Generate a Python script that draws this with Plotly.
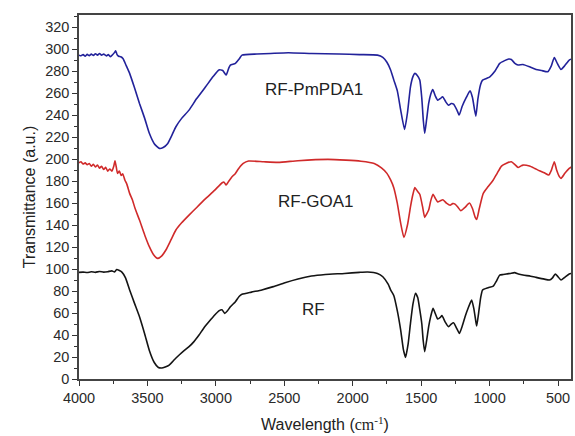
import plotly.graph_objects as go

# RF (black)
rf_wn = [4000,3970,3940,3910,3880,3850,3820,3790,3760,3740,3725,3705,3685,3660,3630,3595,3558,3520,3486,3450,3420,3395,3370,3341,3300,3268,3230,3196,3160,3123,3090,3051,3010,2978,2955,2935,2915,2894,2857,2830,2809,2740,2664,2580,2495,2400,2302,2200,2060,1950,1891,1819,1780,1740,1723,1700,1674,1650,1630,1614,1595,1578,1560,1541,1525,1510,1495,1485,1474,1460,1445,1430,1413,1395,1379,1360,1348,1325,1300,1280,1263,1240,1220,1200,1179,1155,1131,1115,1100,1094,1080,1065,1051,1010,973,950,926,900,877,850,817,790,756,700,660,600,563,540,520,500,478,450,418,400]
rf_val = [97,97.2,96.8,97.5,97,97.8,97.2,97.6,98.3,97.4,99.5,98.6,97,92,81,69,56.6,41,26,15,10.5,10,11,12.7,18,21.8,26,29.4,34,40,46,52,58,62,63,59.7,62,65.7,70.3,75,77,79,81,84,87.6,91,93.6,95,96,97,97.3,96,93,86,81,76,62,45,27,19.7,32,50.6,68,78,74,63,50,35,24.8,35,47.6,57,64.2,59,54.5,56,57.6,52,47.6,50,51.2,46,41.5,48,56.6,65,71.8,64,52,48.2,60,74,81,83,84.5,89,94.5,95,95.5,96,96.7,95.5,94.5,93.5,92.4,90.8,90,92,95.5,93,90,92.5,95.5,96]

# RF-GOA1 (red)
goa_wn = [4000,3985,3970,3955,3940,3925,3910,3895,3880,3865,3850,3835,3820,3805,3790,3775,3760,3745,3737,3728,3718,3705,3692,3680,3665,3650,3630,3610,3590,3558,3520,3486,3455,3425,3395,3365,3330,3292,3250,3196,3140,3075,3010,2954,2940,2925,2905,2882,2860,2833,2800,2761,2650,2544,2400,2181,2050,1940,1843,1790,1750,1723,1700,1674,1650,1626,1600,1578,1560,1546,1528,1510,1490,1474,1460,1445,1430,1413,1395,1379,1360,1341,1315,1288,1270,1252,1230,1210,1180,1147,1125,1105,1094,1075,1046,1010,973,945,913,880,841,815,792,770,756,708,670,636,600,568,548,527,510,490,478,450,418,400]
goa_val = [196.7,197.5,195.5,196.5,194.8,196,193.5,195.2,192.8,194.5,191.8,193.5,190.5,192.5,189,191,189,194,198.5,193,187,189,185,186.5,181,177,168.8,163,155,144.5,131,120.3,113,109.7,112,117.3,126,135.5,142,149,156,164,171.5,178.5,179,176.4,180,184,186.5,191.5,196,198.2,197.5,197,198.5,199.7,199,198,196,192,187,181,174,159.7,142,128.8,140,156.6,168,174,171,168,157,147,150,153.6,162,168,164,161,162,163,160,158,159.5,159,156,153,156,160,155,147,145,155,168.8,175,181,187,193.6,196,197.6,195,192.4,193.8,194.5,193.6,191.5,189.4,187.5,185.5,190,197.6,190,184,182.4,187,191.5,193]

# RF-PmPDA1 (blue)
pda_wn = [4000,3985,3970,3955,3940,3925,3910,3895,3880,3865,3850,3835,3820,3800,3785,3770,3755,3740,3732,3722,3710,3695,3679,3655,3630,3595,3558,3520,3486,3450,3413,3385,3353,3320,3292,3250,3196,3140,3075,3020,2978,2950,2925,2905,2894,2857,2830,2809,2700,2600,2471,2300,2100,1950,1819,1780,1750,1723,1700,1674,1650,1621,1600,1578,1560,1546,1528,1510,1495,1484,1474,1460,1445,1430,1415,1395,1379,1360,1343,1320,1300,1280,1263,1240,1222,1200,1170,1143,1125,1110,1100,1085,1065,1051,1020,998,960,926,890,860,841,815,792,756,700,660,620,575,548,527,505,478,450,418,400]
pda_val = [294.5,294,295,293.5,295.2,294,295.5,294.2,295.8,294.5,296,294.5,295.5,293.8,295,293,294.8,297,298.5,295,293.5,293,291.5,285,277.9,265,250.6,237,223.4,214,209.7,210.5,214,222,229.4,237,244.5,255,265.7,275,281,280.5,276.4,283,285.5,287,291,294.5,295.5,296,296.7,296,295.5,295,294.5,292.5,288,281,272,262,245,227,242,265.7,275,277.9,276,271.8,255,235,223.4,236,250.6,259,263.3,257,253.6,255,256.7,252,249,250.5,250,245,240,248,256,262,256,245,239,255,268,271.8,273.5,274.8,280,287,289.5,291,290.6,287,285.5,286,283.5,281.5,280.5,279.4,285,292.4,287,281.5,285,290,291]

labels = ["RF-PmPDA1", "RF-GOA1", "RF"]
label_x = [2283, 2268, 2283]
label_y = [263, 161, 63]

x_ticks = [4000, 3500, 3000, 2500, 2000, 1500, 1000, 500]
y_ticks = list(range(0, 321, 20))

fig = go.Figure()
series = [
    (rf_wn, rf_val, "#141414", "RF"),
    (goa_wn, goa_val, "#d02a2a", "RF-GOA1"),
    (pda_wn, pda_val, "#22229a", "RF-PmPDA1"),
]
for wn, val, col, name in series:
    fig.add_trace(go.Scatter(x=wn, y=val, mode="lines", name=name,
                             line=dict(color=col, width=1.6, shape="spline", smoothing=0.5)))

for t, x, y in zip(labels, label_x, label_y):
    fig.add_annotation(x=x, y=y, text=t, showarrow=False,
                       font=dict(family="Liberation Sans, Arial", size=17, color="#222"))

axis_font = dict(family="Liberation Sans, Arial", size=14.5, color="#2a2a2a")
fig.update_layout(
    width=575, height=436,
    margin=dict(l=79, r=2, t=15, b=57),
    paper_bgcolor="white", plot_bgcolor="white",
    showlegend=False,
    font=dict(family="Liberation Sans, Arial", color="#333"),
    xaxis=dict(range=[4000, 405], tickvals=x_ticks, ticks="outside", ticklen=5, tickwidth=1.2,
               tickcolor="#333", showline=True, linecolor="#444", linewidth=1.5, mirror=True,
               showgrid=False, zeroline=False, tickfont=axis_font,
               minor=dict(ticks="outside", ticklen=3, tickcolor="#333", dtick=250, tick0=0, showgrid=False),
               title=dict(text="Wavelength (<span style='font-family:Liberation Serif'>cm<sup>-1</sup></span>)",
                          font=dict(family="Liberation Sans, Arial", size=16, color="#222"), standoff=14)),
    yaxis=dict(range=[0, 331], tickvals=y_ticks, ticks="outside", ticklen=5, tickwidth=1.2,
               tickcolor="#333", showline=True, linecolor="#444", linewidth=1.5, mirror=True,
               showgrid=False, zeroline=False, tickfont=axis_font,
               minor=dict(ticks="outside", ticklen=3, tickcolor="#333", dtick=10, tick0=0, showgrid=False),
               title=dict(text="Transmittance (a.u.)",
                          font=dict(family="Liberation Sans, Arial", size=16, color="#222"), standoff=6)),
)

fig.write_html("out.html")
